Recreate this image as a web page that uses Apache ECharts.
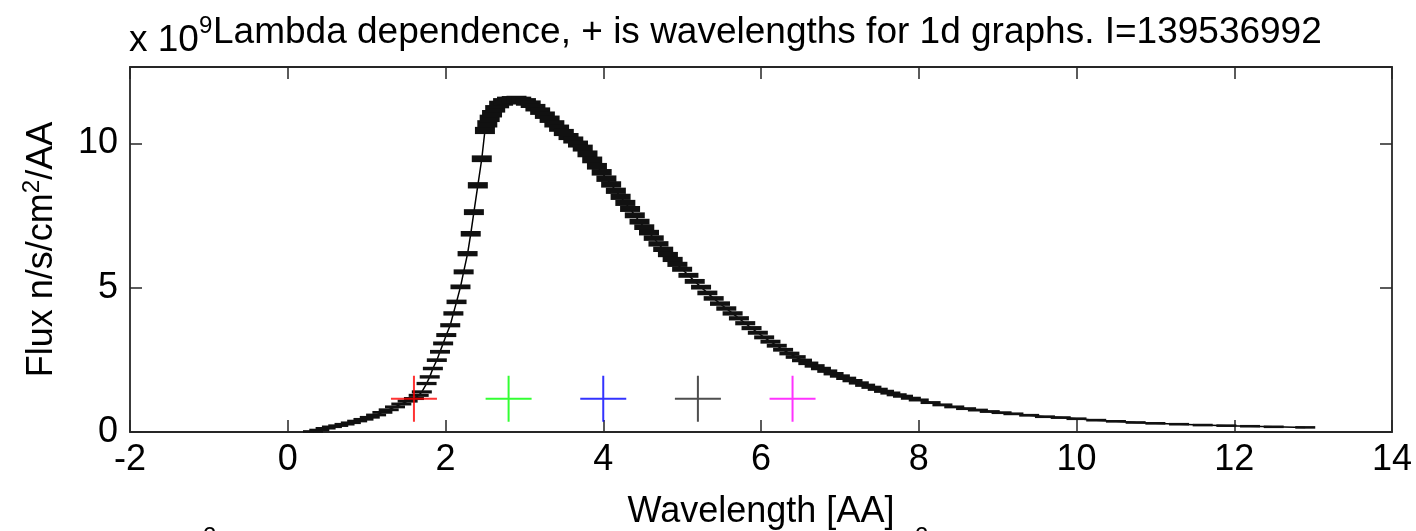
<!DOCTYPE html>
<html>
<head>
<meta charset="utf-8">
<script src="https://cdn.jsdelivr.net/npm/echarts@6.0.0/dist/echarts.min.js"></script>
<style>
html,body{margin:0;padding:0;background:#fff;}
#chart{width:1416px;height:531px;}
</style>
</head>
<body>
<div id="chart"></div>
<script>
// ---- data (wavelength in AA, flux in units of 1e9 n/s/cm^2/AA) ----
const lambda = [0.32,0.40,0.48,0.56,0.64,0.72,0.80,0.88,0.96,1.04,1.12,1.20,1.28,1.36,1.44,1.52,1.60,1.66,
  1.70,1.76,1.80,1.84,1.89,1.93,1.97,2.01,2.06,2.10,2.14,2.19,2.23,2.28,2.32,2.36,2.41,2.46,2.50,2.53,2.56,2.59,
  2.63,2.68,2.73,2.78,2.84,2.90,2.96,
  3.02,3.08,3.14,3.20,3.26,3.32,3.38,3.44,3.50,3.56,3.62,3.68,3.74,3.80,3.86,3.92,3.98,
  4.04,4.10,4.16,4.22,4.28,4.34,4.40,4.46,4.52,4.58,4.64,4.70,4.76,4.82,4.88,4.94,5.00,
  5.08,5.16,5.24,5.32,5.40,5.48,5.56,5.64,5.72,5.80,5.88,5.96,6.04,6.12,6.20,6.28,6.36,6.44,6.52,
  6.60,6.68,6.76,6.84,6.92,7.00,7.08,7.16,7.24,7.32,7.40,7.48,7.56,7.64,7.72,7.80,7.90,8.00,
  8.15,8.30,8.45,8.60,8.75,8.90,9.05,9.20,9.40,9.60,9.80,10.00,10.25,10.50,10.75,11.00,11.30,11.60,11.90,
  12.20,12.50,12.90];
const flux = [0.02,0.07,0.13,0.18,0.22,0.27,0.32,0.38,0.44,0.51,0.59,0.68,0.77,0.87,0.97,1.07,1.16,1.27,
  1.39,1.68,1.91,2.20,2.49,2.78,3.07,3.36,3.70,4.11,4.51,5.03,5.55,6.18,6.87,7.62,8.55,9.47,10.45,10.68,10.87,11.03,
  11.20,11.35,11.44,11.49,11.51,11.52,11.49,
  11.44,11.36,11.24,11.12,10.98,10.84,10.68,10.53,10.38,10.24,10.12,9.98,9.84,9.64,9.43,9.21,9.00,
  8.78,8.58,8.36,8.15,7.94,7.73,7.51,7.29,7.10,6.91,6.72,6.52,6.33,6.15,5.98,5.81,5.64,
  5.43,5.22,5.02,4.82,4.63,4.45,4.28,4.11,3.94,3.77,3.60,3.44,3.28,3.13,2.99,2.85,2.72,2.60,2.48,
  2.38,2.29,2.20,2.11,2.02,1.94,1.86,1.78,1.70,1.62,1.55,1.48,1.41,1.35,1.29,1.24,1.17,1.11,
  1.02,0.94,0.87,0.81,0.76,0.71,0.67,0.63,0.58,0.53,0.50,0.46,0.41,0.37,0.33,0.30,0.27,0.24,0.22,
  0.20,0.18,0.16];

// wavelengths chosen for 1d graphs
const markLambda = [1.6, 2.8, 4.0, 5.2, 6.4];
const markFlux = [1.15, 1.15, 1.15, 1.15, 1.15];
const markColors = ['#ff0000', '#00ff00', '#0000ff', '#222222', '#ff00ff'];

const xTicks = {min: -2, max: 14, interval: 2};
const yTicks = {min: 0, max: 12.65, interval: 5};

const titleText = 'Lambda dependence, + is wavelengths for 1d graphs. I=139536992';
const xName = 'Wavelength [AA]';
const yName = 'Flux n/s/cm{sup|2}/AA';

// ---- chart ----
const FONT = 'Liberation Sans';
const FS = 36;
const TFS = 37;
const SUP = 24;
const axisColor = '#262626';

const chart = echarts.init(document.getElementById('chart'), null, {renderer: 'canvas'});

const tickCommon = {show: true, inside: true, length: 12, lineStyle: {color: axisColor, width: 1.5}};
const lineCommon = {show: true, onZero: false, lineStyle: {color: axisColor, width: 1.8}};

const curve = lambda.map((l, i) => [l, flux[i]]);
const marks = markLambda.map((l, i) => ({value: [l, markFlux[i]], itemStyle: {color: markColors[i]}}));

chart.setOption({
  animation: false,
  backgroundColor: '#ffffff',
  grid: {left: 130, right: 24, top: 67, bottom: 99, containLabel: false, outerBoundsMode: 'none'},
  xAxis: [
    {
      type: 'value', position: 'bottom', min: xTicks.min, max: xTicks.max, interval: xTicks.interval,
      axisLine: lineCommon, axisTick: tickCommon, splitLine: {show: false},
      axisLabel: {color: '#000', fontFamily: FONT, fontSize: FS, margin: 10},
      name: xName, nameLocation: 'middle', nameGap: 62,
      nameTextStyle: {color: '#000', fontFamily: FONT, fontSize: FS}
    },
    {
      type: 'value', position: 'top', min: xTicks.min, max: xTicks.max, interval: xTicks.interval,
      axisLine: lineCommon, axisTick: tickCommon, splitLine: {show: false}, axisLabel: {show: false}
    }
  ],
  yAxis: [
    {
      type: 'value', position: 'left', min: yTicks.min, max: yTicks.max, interval: yTicks.interval,
      axisLine: lineCommon, axisTick: tickCommon, splitLine: {show: false},
      axisLabel: {color: '#000', fontFamily: FONT, fontSize: FS, margin: 12, showMaxLabel: false},
      name: yName, nameLocation: 'middle', nameGap: 66, nameRotate: 90,
      nameTextStyle: {
        color: '#000', fontFamily: FONT, fontSize: FS,
        rich: {sup: {fontFamily: FONT, fontSize: SUP, verticalAlign: 'top', padding: [0, 0, 20, 0], color: '#000'}}
      }
    },
    {
      type: 'value', position: 'right', min: yTicks.min, max: yTicks.max, interval: yTicks.interval,
      axisLine: lineCommon, axisTick: tickCommon, splitLine: {show: false}, axisLabel: {show: false}
    }
  ],
  graphic: [
    {
      type: 'text', left: 213, top: 14, silent: true,
      style: {text: titleText, fill: '#000', font: TFS + 'px "' + FONT + '"'}
    },
    {
      type: 'text', left: 129, top: 22, silent: true,
      style: {text: 'x 10', fill: '#000', font: TFS + 'px "' + FONT + '"'}
    },
    {
      type: 'text', left: 199, top: 14, silent: true,
      style: {text: '9', fill: '#000', font: SUP + 'px "' + FONT + '"'}
    },
    {
      type: 'text', left: 203, top: 525, silent: true,
      style: {text: '2', fill: '#000', font: SUP + 'px "' + FONT + '"'}
    },
    {
      type: 'text', left: 915, top: 525, silent: true,
      style: {text: '2', fill: '#000', font: SUP + 'px "' + FONT + '"'}
    }
  ],
  series: [
    {
      type: 'line', xAxisIndex: 0, yAxisIndex: 0, data: curve,
      symbol: 'rect', showSymbol: true,
      symbolSize: function (v) { return [20, 2.5 + 0.45 * v[1]]; },
      itemStyle: {color: '#111'}, lineStyle: {color: '#000', width: 1.5},
      z: 2
    },
    {
      type: 'scatter', xAxisIndex: 0, yAxisIndex: 0, data: marks,
      symbol: 'path://M0,22L46,22L46,24L0,24ZM22,0L24,0L24,46L22,46Z', symbolSize: 46,
      z: 3
    }
  ]
});
</script>
</body>
</html>
